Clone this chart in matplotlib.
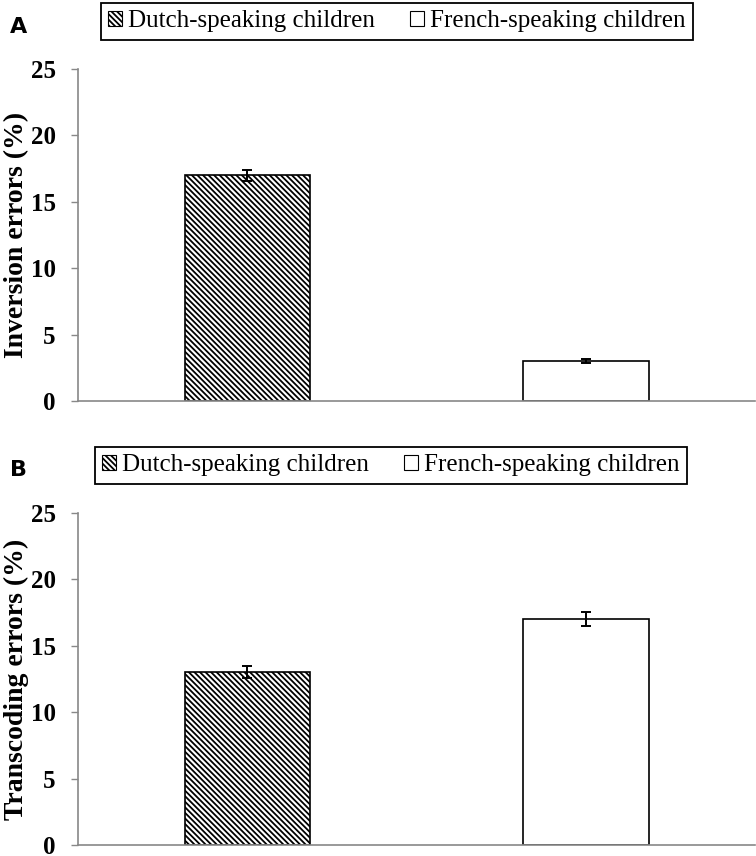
import matplotlib.pyplot as plt
from matplotlib.patches import Patch

plt.rcParams['hatch.linewidth'] = 1.3

groups = ['Dutch-speaking children', 'French-speaking children']
inversion = [17.0, 3.0]
inversion_err = [0.4, 0.15]
transcoding = [13.0, 17.0]
transcoding_err = [0.45, 0.55]
yticks = [0, 5, 10, 15, 20, 25]

serif = ['Liberation Serif', 'DejaVu Serif']
hatches = ['\\\\\\\\\\\\', '']

fig = plt.figure(figsize=(7.56, 8.56), dpi=100)
ax_a = fig.add_axes([0.103, 0.5315, 0.896, 0.3879])
ax_b = fig.add_axes([0.103, 0.0129, 0.896, 0.3879])


def draw_panel(ax, vals, errs, ylabel, letter, letter_y, leg_y, leg_x):
    for i, (v, e) in enumerate(zip(vals, errs)):
        ax.bar(i, v, width=0.37, color='white', edgecolor='black',
               linewidth=1.2, hatch=hatches[i], zorder=2)
        ax.errorbar(i, v, yerr=e, fmt='none', ecolor='black',
                    elinewidth=1.4, capsize=3.5, capthick=1.4, zorder=3)
    ax.set_xlim(-0.5, 1.5)
    ax.set_ylim(0, 25)
    ax.set_yticks(yticks)
    ax.set_yticklabels([str(t) for t in yticks], family=serif,
                       fontweight='bold', fontsize=18)
    ax.set_xticks([])
    for s in ['top', 'right']:
        ax.spines[s].set_visible(False)
    for s in ['left', 'bottom']:
        ax.spines[s].set_color('#888888')
        ax.spines[s].set_linewidth(1.2)
    ax.tick_params(axis='y', direction='out', length=5, width=1,
                   color='#888888', pad=11)
    ax.set_ylabel(ylabel, family=serif, fontweight='bold', fontsize=20,
                  va='center')
    ax.yaxis.set_label_coords(-0.0905, 0.5)
    fig.text(10 / 756, letter_y, letter, fontsize=16, fontweight='bold',
             family='DejaVu Sans', va='center')
    handles = [Patch(facecolor='white', edgecolor='black', hatch=hatches[i],
                     linewidth=0.8) for i in range(2)]
    leg = fig.legend(handles, groups, loc='center', ncol=2,
                     bbox_to_anchor=(leg_x, leg_y), frameon=True,
                     fancybox=False, edgecolor='black', framealpha=1,
                     prop={'family': serif, 'size': 18},
                     handlelength=0.55, handleheight=0.55, handletextpad=0.25,
                     columnspacing=1.4, borderpad=0.3, borderaxespad=0)
    leg.get_frame().set_linewidth(1.3)


draw_panel(ax_a, inversion, inversion_err, 'Inversion errors (%)', 'A',
           1 - 27 / 856, 1 - 21.5 / 856, 397 / 756)
draw_panel(ax_b, transcoding, transcoding_err, 'Transcoding errors (%)', 'B',
           1 - 470 / 856, 1 - 465 / 856, 391 / 756)

fig.savefig('out.png', dpi=100)
